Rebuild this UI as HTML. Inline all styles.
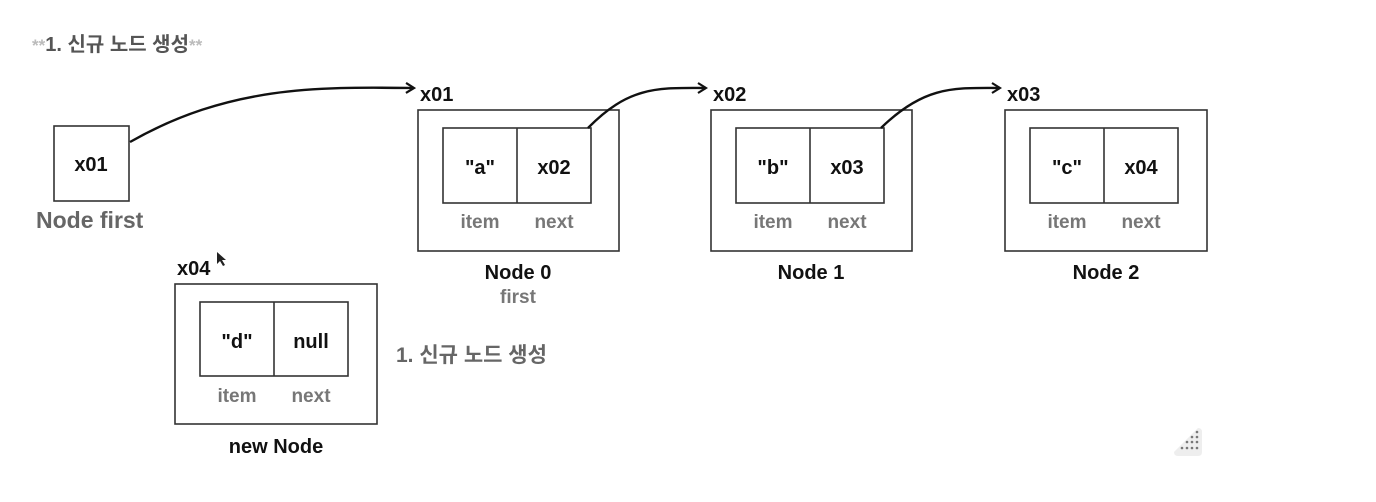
<!DOCTYPE html>
<html><head><meta charset="utf-8"><style>
html,body{margin:0;padding:0;background:#fff;}
svg{display:block;}
text{font-family:"Liberation Sans","Noto Sans CJK KR",sans-serif;font-weight:bold;}
</style></head><body>
<svg width="1376" height="502" viewBox="0 0 1376 502" xmlns="http://www.w3.org/2000/svg">
<defs>
<marker id="ah" markerWidth="12" markerHeight="12" refX="10" refY="6" orient="auto" markerUnits="userSpaceOnUse">
<path d="M2,1 L10,6 L2,11" fill="none" stroke="#111" stroke-width="2.2"/>
</marker>
</defs>
<g fill="none" stroke="#333" stroke-width="1.6">
<rect x="54" y="126" width="75" height="75"/>
<rect x="418" y="110" width="201" height="141"/>
<rect x="443" y="128" width="148" height="75"/><line x1="517" y1="128" x2="517" y2="203"/>
<rect x="711" y="110" width="201" height="141"/>
<rect x="736" y="128" width="148" height="75"/><line x1="810" y1="128" x2="810" y2="203"/>
<rect x="1005" y="110" width="202" height="141"/>
<rect x="1030" y="128" width="148" height="75"/><line x1="1104" y1="128" x2="1104" y2="203"/>
<rect x="175" y="284" width="202" height="140"/>
<rect x="200" y="302" width="148" height="74"/><line x1="274" y1="302" x2="274" y2="376"/>
</g>
<g fill="none" stroke="#111" stroke-width="2.4">
<path d="M130,142 C230,85 320,87 414,88" marker-end="url(#ah)"/>
<path d="M588,128 C630,85 660,88 706,88" marker-end="url(#ah)"/>
<path d="M881,128 C925,85 955,88 1000,88" marker-end="url(#ah)"/>
</g>
<text x="32" y="51" font-size="20" fill="#555"><tspan fill="#bbb" font-size="17">**</tspan>1. 신규 노드 생성<tspan fill="#bbb" font-size="17">**</tspan></text>
<g font-size="20" fill="#111" text-anchor="middle">
<text x="91" y="171">x01</text>
<text x="480" y="174">"a"</text><text x="554" y="174">x02</text>
<text x="773" y="174">"b"</text><text x="847" y="174">x03</text>
<text x="1067" y="174">"c"</text><text x="1141" y="174">x04</text>
<text x="237" y="348">"d"</text><text x="311" y="348">null</text>
<text x="518" y="279">Node 0</text>
<text x="811" y="279">Node 1</text>
<text x="1106" y="279">Node 2</text>
<text x="276" y="453">new Node</text>
</g>
<g font-size="20" fill="#111">
<text x="420" y="101">x01</text>
<text x="713" y="101">x02</text>
<text x="1007" y="101">x03</text>
<text x="177" y="275">x04</text>
</g>
<g font-size="19" fill="#777" text-anchor="middle">
<text x="480" y="228">item</text><text x="554" y="228">next</text>
<text x="773" y="228">item</text><text x="847" y="228">next</text>
<text x="1067" y="228">item</text><text x="1141" y="228">next</text>
<text x="237" y="402">item</text><text x="311" y="402">next</text>
<text x="518" y="303">first</text>
</g>
<text x="36" y="228" font-size="23" fill="#666">Node first</text>
<text x="396" y="362" font-size="21" fill="#666">1. 신규 노드 생성</text>
<path d="M217,252 l0,12 l3,-3 l3,5 l2,-1 l-3,-5 l4,0 z" fill="#222"/>
<path d="M1174,452 L1198,428 Q1202,428 1202,432 L1202,452 Q1202,456 1198,456 L1178,456 Q1174,456 1174,452 Z" fill="#eee"/>
<g fill="#777">
<circle cx="1197" cy="432" r="1.3"/>
<circle cx="1192" cy="437" r="1.3"/><circle cx="1197" cy="437" r="1.3"/>
<circle cx="1187" cy="442" r="1.3"/><circle cx="1192" cy="442" r="1.3"/><circle cx="1197" cy="442" r="1.3"/>
<circle cx="1182" cy="448" r="1.3"/><circle cx="1187" cy="448" r="1.3"/><circle cx="1192" cy="448" r="1.3"/><circle cx="1197" cy="448" r="1.3"/>
</g>
</svg>
</body></html>
